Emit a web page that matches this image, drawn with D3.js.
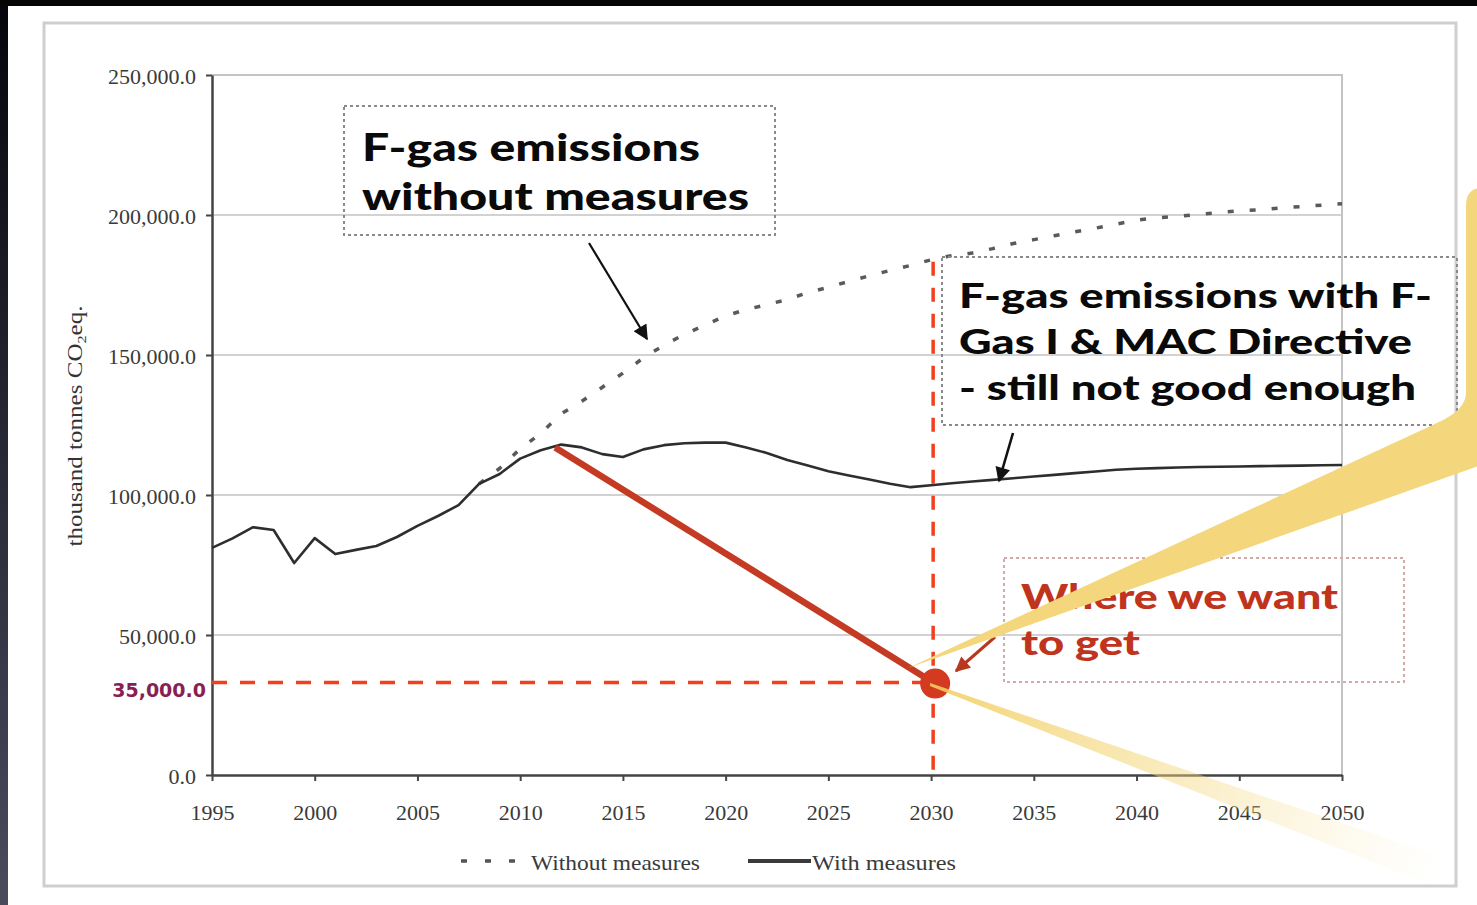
<!DOCTYPE html>
<html><head><meta charset="utf-8">
<script src="https://cdn.jsdelivr.net/npm/d3@7"></script>
<style>body{margin:0;background:#fff;} svg{display:block;}</style>
</head><body><svg id="c" width="1477" height="905"></svg>
<script>
// ---------------- data ----------------
const withYears = [1995,1996,1997,1998,1999,2000,2001,2002,2003,2004,2005,2006,2007,2008,2009,2010,2011,2012,2013,2014,2015,2016,2017,2018,2019,2020,2021,2022,2023,2024,2025,2026,2027,2028,2029,2030,2031,2032,2033,2034,2035,2036,2037,2038,2039,2040,2041,2042,2043,2044,2045,2046,2047,2048,2049,2050];
const withMeasures = [81100,84500,88500,87500,75700,84600,78900,80400,81800,85000,89000,92500,96400,104000,107500,113000,116000,118000,117000,114600,113600,116300,117800,118500,118700,118700,117000,115000,112500,110500,108500,107000,105500,104000,102800,103500,104200,104800,105400,106000,106600,107200,107800,108400,109000,109400,109600,109800,110000,110100,110200,110300,110400,110500,110600,110700];
const withoutYears = [2008,2009,2010,2011,2012,2013,2014,2015,2016,2017,2018,2019,2020,2021,2022,2023,2024,2025,2026,2027,2028,2029,2030,2031,2032,2033,2034,2035,2036,2037,2038,2039,2040,2041,2042,2043,2044,2045,2046,2047,2048,2049,2050];
const withoutMeasures = [104000,109500,116500,122000,129000,133500,138500,143500,149000,153500,157400,160700,164000,166200,168000,169800,172300,174200,176300,178300,180200,182000,184000,185500,186400,188000,189800,191200,192600,194000,195300,196700,198200,199000,199500,200200,200900,201500,201900,202500,203000,203500,204000];
const yTickValues = [0,50000,100000,150000,200000,250000];
const yTickLabels = ["0.0","50,000.0","100,000.0","150,000.0","200,000.0","250,000.0"];
const gridValues = [50000,100000,150000,200000];
const xTickValues = [1995,2000,2005,2010,2015,2020,2025,2030,2035,2040,2045,2050];
const xTickLabels = ["1995","2000","2005","2010","2015","2020","2025","2030","2035","2040","2045","2050"];
const pathYears = [2011.7, 2030.1];
const pathValues = [117000, 33000];
const targetLabel = "35,000.0";
const yTitle = ["thousand tonnes CO", "2", "eq."];
const legendLabels = ["Without measures","With measures"];
const note1 = ["F-gas emissions","without measures"];
const note2 = ["F-gas emissions with F-","Gas I & MAC Directive","- still not good enough"];
const note3 = ["Where we want","to get"];

// ---------------- setup ----------------
const svg = d3.select("#c");
const x = d3.scaleLinear().domain([1995,2050]).range([212,1342]);
const y = d3.scaleLinear().domain([0,250000]).range([775,75]);
const defs = svg.append("defs");

svg.append("rect").attr("width",1477).attr("height",905).attr("fill","#fff");
const lg = defs.append("linearGradient").attr("id","leftband").attr("x1",0).attr("y1",0).attr("x2",0).attr("y2",1);
lg.append("stop").attr("offset","0").attr("stop-color","#05050c");
lg.append("stop").attr("offset","1").attr("stop-color","#4a4c5e");
svg.append("rect").attr("x",0).attr("y",0).attr("width",8).attr("height",905).attr("fill","url(#leftband)");
svg.append("rect").attr("x",0).attr("y",0).attr("width",1477).attr("height",6).attr("fill","#050505");

// outer frame
svg.append("rect").attr("x",44).attr("y",23).attr("width",1412).attr("height",863)
  .attr("fill","none").attr("stroke","#cfcfcf").attr("stroke-width",3);

// grid + plot frame
svg.append("g").selectAll("line").data(gridValues).join("line")
  .attr("x1",x(1995)).attr("x2",x(2050)).attr("y1",d=>y(d)).attr("y2",d=>y(d))
  .attr("stroke","#d2d2d2").attr("stroke-width",2);
svg.append("path").attr("d",`M${x(1995)},${y(250000)}H${x(2050)}V${y(0)}`)
  .attr("fill","none").attr("stroke","#c4c4c4").attr("stroke-width",2);

// axes
const yAxis = svg.append("g").attr("transform",`translate(${x(1995)},0)`)
  .call(d3.axisLeft(y).tickValues(yTickValues).tickFormat((d,i)=>yTickLabels[i]).tickSize(6).tickSizeOuter(0).tickPadding(10));
const xAxis = svg.append("g").attr("transform",`translate(0,${y(0)})`)
  .call(d3.axisBottom(x).tickValues(xTickValues).tickFormat((d,i)=>xTickLabels[i]).tickSize(6).tickSizeOuter(0).tickPadding(23));
[yAxis,xAxis].forEach(g=>{
  g.select(".domain").attr("stroke","#444").attr("stroke-width",2.5);
  g.selectAll(".tick line").attr("stroke","#444").attr("stroke-width",2);
  g.selectAll("text").attr("font-family","'Liberation Serif','Times New Roman',serif")
   .attr("font-size",22).attr("fill","#3a3a3a");
});
yAxis.selectAll("text").attr("dy","0.38em");

// y title
const yt = svg.append("text").attr("transform","translate(82,426) rotate(-90)")
  .attr("text-anchor","middle").attr("font-family","'Liberation Serif',serif")
  .attr("font-size",20).attr("fill","#333").attr("textLength",241).attr("lengthAdjust","spacingAndGlyphs");
yt.append("tspan").text(yTitle[0]);
yt.append("tspan").attr("font-size",13).attr("dy",4).text(yTitle[1]);
yt.append("tspan").attr("dy",-4).text(yTitle[2]);

// series
const line = d3.line().x(d=>x(d[0])).y(d=>y(d[1]));
svg.append("path").datum(d3.zip(withoutYears,withoutMeasures)).attr("d",line)
  .attr("fill","none").attr("stroke","#5a5a5a").attr("stroke-width",3.5).attr("stroke-dasharray","6,16");
svg.append("path").datum(d3.zip(withYears,withMeasures)).attr("d",line)
  .attr("fill","none").attr("stroke","#2e2e2e").attr("stroke-width",2.6).attr("stroke-linejoin","round");

// target dashed lines
const tx = x(pathYears[1]), ty = y(pathValues[1]);
const topV = withoutMeasures[withoutYears.indexOf(2030)];
svg.append("line").attr("x1",x(1995)).attr("x2",tx).attr("y1",ty).attr("y2",ty)
  .attr("stroke","#f2401f").attr("stroke-width",3.5).attr("stroke-dasharray","15,13");
svg.append("line").attr("x1",tx).attr("x2",tx).attr("y1",y(topV)+2).attr("y2",y(0))
  .attr("stroke","#f2401f").attr("stroke-width",3.5).attr("stroke-dasharray","14,12");
svg.append("text").attr("x",x(1995)-6).attr("y",ty+14).attr("text-anchor","end")
  .attr("font-family","'DejaVu Sans',sans-serif").attr("font-weight","bold").attr("font-size",19)
  .attr("fill","#8a1f52").text(targetLabel);

// red path + circle
svg.append("path").datum(d3.zip(pathYears,pathValues)).attr("d",line)
  .attr("stroke","#c43a22").attr("stroke-width",6.5).attr("fill","none");
svg.append("circle").attr("cx",tx+2).attr("cy",ty+1).attr("r",15).attr("fill","#d33a20");

// markers
function marker(id,color){
  defs.append("marker").attr("id",id).attr("viewBox","0 0 10 10").attr("refX",9).attr("refY",5)
   .attr("markerUnits","userSpaceOnUse").attr("markerWidth",17).attr("markerHeight",15).attr("orient","auto")
   .append("path").attr("d","M0,0L10,5L0,10Z").attr("fill",color);
}
marker("ab","#111"); marker("ar","#b8381f");

// annotation boxes
function box(x0,y0,x1,y1,color){
  svg.append("rect").attr("x",x0).attr("y",y0).attr("width",x1-x0).attr("height",y1-y0)
   .attr("fill","none").attr("stroke",color).attr("stroke-width",2).attr("stroke-dasharray","3,3");
}
function lines(arr,x0,baselines,widths,size,color){
  arr.forEach((t,i)=>svg.append("text").attr("x",x0).attr("y",baselines[i])
   .attr("font-family","Lato,'Open Sans',sans-serif").attr("font-weight",900).attr("font-size",size)
   .attr("fill",color).attr("textLength",widths[i]).attr("lengthAdjust","spacingAndGlyphs").text(t));
}
box(344,106,775,235,"#8a8a8a");
lines(note1,362,[161,210],[338,387],38,"#0a0a0a");
box(942,257,1457,425,"#8a8a8a");
lines(note2,959,[308,354,400],[473,453,457],35,"#0a0a0a");
box(1004,558,1404,682,"#d2aaaa");
lines(note3,1021,[609,655],[317,119],35,"#c0341d");

svg.append("line").attr("x1",589).attr("y1",243).attr("x2",647).attr("y2",339)
  .attr("stroke","#111").attr("stroke-width",2.2).attr("marker-end","url(#ab)");
svg.append("line").attr("x1",1013).attr("y1",433).attr("x2",999).attr("y2",481)
  .attr("stroke","#111").attr("stroke-width",2.6).attr("marker-end","url(#ab)");
svg.append("line").attr("x1",995).attr("y1",637).attr("x2",956).attr("y2",671)
  .attr("stroke","#b8381f").attr("stroke-width",3).attr("marker-end","url(#ar)");

// yellow callout
svg.append("path").attr("d","M1466,206Q1466,188 1482,188L1490,188L1490,462L908,668L1437,423Q1466,410 1466,393Z")
  .attr("fill","#f4d67c");
const bg = defs.append("linearGradient").attr("id","beam").attr("gradientUnits","userSpaceOnUse")
  .attr("x1",930).attr("y1",685).attr("x2",1440).attr("y2",872);
bg.append("stop").attr("offset","0").attr("stop-color","#f2cf63").attr("stop-opacity",0.9);
bg.append("stop").attr("offset","0.5").attr("stop-color","#f4d77c").attr("stop-opacity",0.45);
bg.append("stop").attr("offset","1").attr("stop-color","#f8e6a8").attr("stop-opacity",0);
svg.append("path").attr("d","M930,683L1445,858L1428,884L930,686Z").attr("fill","url(#beam)");

// legend
svg.append("line").attr("x1",461).attr("x2",517).attr("y1",861).attr("y2",861)
  .attr("stroke","#555").attr("stroke-width",3.5).attr("stroke-dasharray","6,18");
svg.append("line").attr("x1",748).attr("x2",811).attr("y1",861).attr("y2",861)
  .attr("stroke","#3a3a3a").attr("stroke-width",4);
const legX = [531,812], legW=[169,144];
legendLabels.forEach((t,i)=>svg.append("text").attr("x",legX[i]).attr("y",870)
  .attr("font-family","'Liberation Serif',serif").attr("font-size",21).attr("fill","#3a3a3a")
  .attr("textLength",legW[i]).attr("lengthAdjust","spacingAndGlyphs").text(t));
</script></body></html>
